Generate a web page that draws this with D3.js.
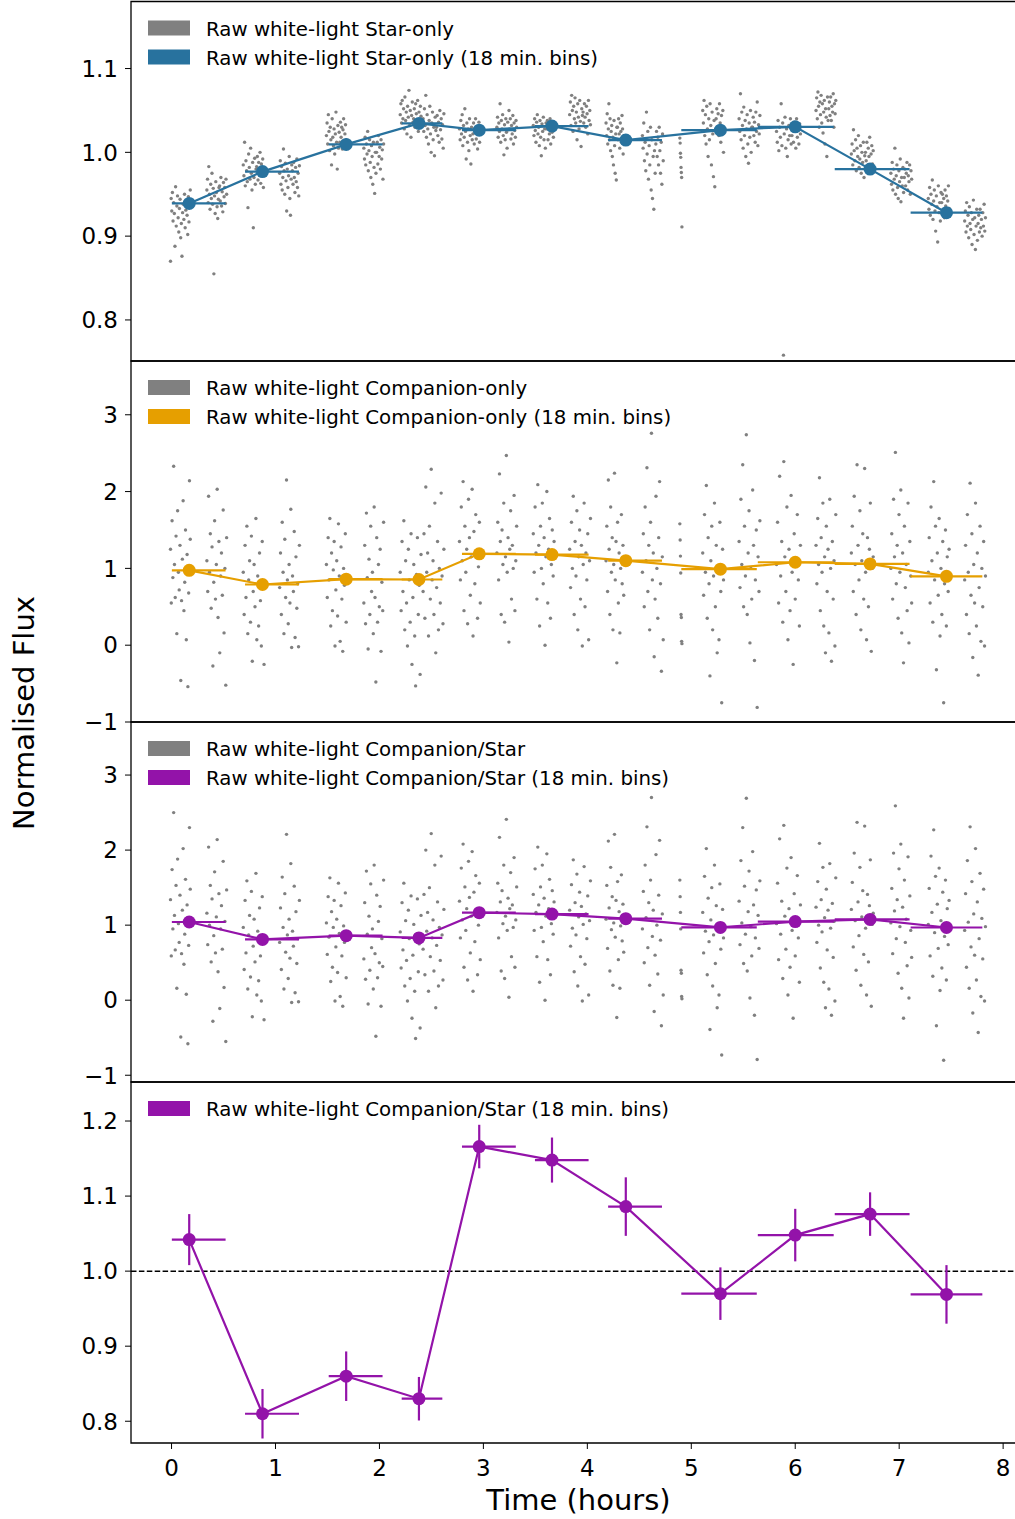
<!DOCTYPE html>
<html lang="en">
<head>
<meta charset="utf-8"/>
<script src="https://d3js.org/d3.v7.min.js"></script>
<style>
  body { margin: 0; background: #fff; }
  text { font-family: "DejaVu Sans", sans-serif; fill: #000; }
</style>
</head>
<body>
<div id="chart"></div>
<script>
// time windows (hours) of each block of exposures
var clumpStart = [-0.01, 0.34, 0.69, 1.04, 1.49, 1.85, 2.20, 2.42, 2.77, 3.13, 3.48, 3.83, 4.18, 4.53, 4.89, 5.11, 5.46, 5.82, 6.20, 6.54, 6.92, 7.28, 7.63];
var clumpEnd   = [0.18, 0.53, 0.89, 1.23, 1.68, 2.04, 2.40, 2.62, 2.97, 3.32, 3.68, 4.03, 4.35, 4.73, 4.91, 5.31, 5.66, 6.05, 6.39, 6.75, 7.12, 7.48, 7.83];

// raw white-light star-only flux, one list per block
var starRaw = [
  [0.870,0.945,0.930,0.952,0.918,0.940,0.927,0.888,0.959,0.912,0.936,0.948,0.922,0.905,0.933,0.944,0.898,0.915,0.876,0.928,0.938,0.920,0.950,0.910,0.931,0.942,0.925,0.902,0.947,0.917,0.935,0.955],
  [0.955,0.968,0.940,0.983,0.950,0.932,0.962,0.945,0.975,0.938,0.957,0.855,0.948,0.927,0.965,0.952,0.935,0.921,0.944,0.958,0.960,0.942,0.970,0.936,0.953,0.929,0.964,0.947,0.958,0.939,0.968,0.950],
  [0.985,0.972,1.012,0.960,0.990,0.978,0.965,0.934,0.998,0.982,0.968,1.005,0.975,0.955,0.988,0.910,0.970,0.993,0.962,0.980,0.983,0.995,0.967,0.988,0.976,1.000,0.963,0.986,0.972,0.992,0.958,0.979],
  [0.975,0.990,0.962,0.983,0.955,0.970,1.004,0.978,0.950,0.987,0.966,0.930,0.980,0.958,0.972,0.995,0.945,0.925,0.968,0.985,0.978,0.962,0.988,0.970,0.952,0.982,0.965,0.992,0.958,0.975,0.948,0.984],
  [1.020,1.035,1.010,1.045,1.025,1.002,1.030,1.015,0.985,1.040,1.018,1.008,1.028,0.998,1.022,1.048,1.012,0.980,1.032,1.005,1.024,1.012,1.036,1.018,1.030,1.004,1.027,1.040,1.010,1.022,1.033,1.015],
  [1.005,0.992,1.018,0.985,1.010,0.998,1.025,0.978,1.002,1.015,0.988,0.970,1.008,0.995,0.962,1.012,0.982,0.951,1.000,0.975,1.000,1.012,0.986,1.020,0.995,1.006,0.980,1.015,0.992,1.003,0.968,1.010],
  [1.045,1.058,1.035,1.062,1.040,1.052,1.028,1.066,1.038,1.048,1.022,1.055,1.042,1.074,1.032,1.050,1.018,1.044,1.060,1.036,1.040,1.052,1.030,1.058,1.046,1.035,1.062,1.025,1.048,1.038,1.055,1.043],
  [1.040,1.025,1.052,1.032,1.068,1.018,1.045,1.028,1.010,1.038,1.055,1.022,1.000,1.035,1.048,1.015,1.030,0.996,1.042,1.026,1.030,1.044,1.020,1.036,1.012,1.050,1.027,1.040,1.016,1.033,1.005,1.046],
  [1.028,1.015,1.038,1.022,1.045,1.008,1.032,1.018,1.052,1.025,0.992,1.035,1.012,1.028,1.002,1.040,1.020,0.986,1.030,1.015,1.022,1.035,1.010,1.028,1.040,1.016,1.030,1.004,1.024,1.036,1.012,1.026],
  [1.030,1.042,1.018,1.035,1.025,1.058,1.012,1.038,1.028,1.045,1.020,0.997,1.033,1.015,1.040,1.024,1.005,1.036,1.027,1.050,1.028,1.040,1.016,1.032,1.022,1.044,1.010,1.035,1.026,1.018,1.038,1.030],
  [1.032,1.020,1.040,1.026,1.012,1.036,1.045,1.022,1.030,1.008,1.038,1.018,0.996,1.034,1.025,1.042,1.015,1.028,1.005,1.035,1.028,1.038,1.015,1.032,1.022,1.040,1.010,1.030,1.024,1.036,1.018,1.027],
  [1.045,1.060,1.032,1.068,1.050,1.025,1.055,1.040,1.065,1.035,1.048,1.015,1.058,1.042,1.028,1.062,1.037,1.007,1.052,1.044,1.048,1.035,1.058,1.042,1.030,1.055,1.046,1.022,1.062,1.038,1.050,1.033],
  [1.035,1.020,1.046,1.010,1.028,1.058,1.015,1.040,1.002,1.025,1.032,0.995,1.018,0.985,1.038,1.008,0.975,1.022,0.967,1.030,1.030,1.015,1.040,1.022,1.005,1.035,1.025,1.012,1.044,1.028,0.998,1.020],
  [1.020,1.005,1.035,0.990,1.012,0.978,1.048,0.998,1.025,0.968,1.008,0.985,1.030,0.955,1.015,0.945,0.995,0.932,1.002,0.975,1.010,1.025,0.995,1.018,0.985,1.030,1.002,0.975,1.012,0.962,1.022,0.990],
  [1.017,1.011,0.999,0.994,0.982,0.976,0.970,0.911],
  [1.050,1.035,1.062,1.020,1.045,1.010,1.055,1.028,0.995,1.040,1.015,1.058,1.032,0.985,1.048,1.022,0.971,1.038,0.959,1.026,1.040,1.052,1.030,1.046,1.020,1.058,1.035,1.012,1.044,1.025,1.050,1.000],
  [1.040,1.025,1.070,1.015,1.048,1.032,1.005,1.054,1.020,1.038,0.995,1.028,1.045,1.010,0.987,1.035,1.018,1.050,1.000,1.030,1.030,1.042,1.020,1.036,1.012,1.048,1.025,1.060,1.008,1.033,1.022,1.044],
  [1.025,1.012,1.038,1.002,1.030,1.018,1.058,1.008,1.035,0.758,1.022,1.042,1.005,1.028,0.995,1.015,1.032,1.020,1.040,1.010,1.020,1.030,1.012,1.036,1.025,1.005,1.040,1.018,1.028,1.010,1.034,1.022],
  [1.050,1.065,1.040,1.072,1.055,1.030,1.060,1.045,1.068,1.035,1.058,1.023,1.048,1.062,1.010,1.052,1.042,0.995,1.066,1.038,1.052,1.060,1.044,1.066,1.038,1.055,1.048,1.070,1.030,1.058,1.046,1.062],
  [0.998,1.010,0.985,1.027,1.002,0.990,1.015,0.978,1.005,0.995,1.020,0.982,0.992,1.008,0.975,1.000,0.988,1.012,0.970,0.996,1.000,0.990,1.012,0.984,1.005,0.995,1.018,0.978,0.998,1.008,0.986,1.002],
  [0.975,0.962,0.988,0.955,0.980,0.968,1.005,0.950,0.972,0.985,0.958,0.945,0.978,0.965,0.992,0.941,0.970,0.960,0.982,0.952,0.970,0.980,0.960,0.975,0.988,0.955,0.972,0.965,0.985,0.950,0.978,0.968],
  [0.945,0.932,0.958,0.925,0.950,0.938,0.967,0.920,0.942,0.955,0.930,0.906,0.948,0.935,0.893,0.960,0.928,0.940,0.918,0.952,0.940,0.950,0.930,0.945,0.922,0.955,0.936,0.948,0.926,0.942,0.960,0.933],
  [0.918,0.930,0.905,0.940,0.912,0.925,0.898,0.935,0.915,0.908,0.928,0.890,0.920,0.943,0.902,0.922,0.884,0.912,0.932,0.895,0.915,0.925,0.905,0.932,0.910,0.920,0.900,0.928,0.912,0.938,0.906,0.922]
];

// raw white-light companion-only flux
var compRaw = [
  [1.25,0.55,1.62,0.88,2.33,1.05,0.62,1.42,0.15,1.75,0.95,0.72,1.30,-0.46,0.58,1.12,1.88,0.45,0.82,1.50,0.07,1.18,-0.54,0.68,2.14,1.38],
  [1.10,0.70,1.94,0.95,1.45,0.48,1.28,-0.27,0.82,1.62,0.60,1.05,2.03,0.36,1.35,-0.10,0.90,1.20,0.65,1.76,0.16,1.00,-0.52,1.40],
  [0.95,0.40,1.30,0.62,1.55,0.15,0.85,1.10,0.30,1.42,-0.21,0.70,1.05,0.50,1.65,0.07,0.90,0.25,1.20,0.58,-0.01,1.35,0.78,-0.25],
  [0.75,1.20,0.40,1.60,0.95,0.15,1.38,0.62,2.15,0.85,0.28,1.05,0.55,1.77,-0.03,0.90,0.70,1.48,0.10,1.15,0.48,0.80,-0.02,1.30],
  [1.05,0.62,1.40,0.85,1.65,0.25,1.20,0.45,0.98,1.35,-0.01,0.72,1.10,0.38,1.58,0.90,0.05,1.28,0.60,-0.08,1.00,0.78,1.45,0.30],
  [0.55,1.30,0.28,1.72,0.88,-0.05,1.12,0.40,1.55,0.70,0.95,0.15,1.80,0.62,-0.48,1.40,0.30,1.05,0.50,1.25,-0.08,0.82,0.45,1.60],
  [0.95,0.45,1.35,0.70,1.62,0.20,1.10,0.55,-0.01,1.25,0.85,0.30,1.45,-0.25,0.62,1.05,0.12,-0.53,0.92,1.40,0.40,0.78,-0.38,1.18],
  [0.70,1.45,0.35,2.06,0.95,1.20,0.12,1.55,0.60,2.29,0.85,1.10,0.40,1.85,-0.10,0.75,1.35,0.20,1.00,0.55,1.98,0.90,0.28,1.25],
  [1.35,0.85,1.80,1.10,2.13,0.45,1.55,0.95,1.25,0.28,1.90,1.40,0.65,1.15,2.03,0.12,1.48,0.80,1.70,1.20,0.35,1.02,1.60,0.55],
  [1.20,1.60,0.85,2.23,1.35,0.40,1.50,1.05,1.85,0.30,1.15,2.47,0.95,1.40,0.04,1.25,1.75,0.60,1.30,1.00,1.95,0.45,1.10,1.55],
  [1.45,0.95,1.80,1.20,0.60,2.09,1.30,0.25,1.55,1.00,1.85,0.80,1.40,0.00,1.15,2.00,0.55,1.25,1.65,0.35,1.05,1.50,0.90,1.35],
  [1.25,0.75,1.60,1.00,1.94,0.40,1.35,0.90,1.75,0.20,1.15,1.50,0.60,1.30,-0.01,1.05,1.85,0.50,1.20,0.85,1.45,0.07,1.10,1.65],
  [1.10,1.55,0.70,2.15,1.25,0.40,1.80,0.95,1.40,0.20,1.05,2.24,0.85,1.35,-0.23,1.60,0.55,1.20,0.16,1.00,1.70,0.80,1.30,0.65],
  [0.95,1.45,0.50,1.80,1.10,2.31,0.70,1.30,0.20,1.60,2.76,0.85,1.20,-0.15,0.60,1.94,1.00,0.35,1.40,2.13,0.80,-0.34,1.15,0.07],
  [1.58,1.37,1.16,0.94,0.40,0.36,0.05,0.02],
  [1.20,0.65,1.70,0.95,2.08,0.35,1.40,0.80,-0.40,1.10,1.55,0.20,0.90,1.85,0.50,1.30,-0.10,1.00,0.07,1.60,0.70,-0.75,1.25,0.85],
  [1.35,0.75,1.90,1.05,2.35,0.50,1.55,0.90,2.74,0.40,1.20,1.75,0.03,1.00,0.60,2.02,1.30,-0.20,0.85,1.50,-0.81,1.15,0.70,1.62],
  [1.05,1.60,0.55,2.20,0.90,1.35,0.30,2.39,1.15,0.70,1.80,0.07,1.25,0.45,1.95,0.95,-0.25,1.45,0.60,1.10,1.70,0.85,0.25,1.30],
  [1.30,0.80,1.65,1.05,2.18,0.45,1.40,0.95,1.85,0.25,1.15,-0.10,1.55,0.70,1.25,0.16,1.90,1.00,-0.21,1.35,0.60,1.10,-0.01,1.70],
  [1.20,1.55,0.70,1.94,1.05,0.40,2.35,1.30,0.85,1.75,0.20,1.10,1.45,0.60,2.30,0.95,0.07,1.40,0.50,1.25,1.85,-0.08,1.00,1.15],
  [1.00,1.45,0.60,1.90,1.15,2.51,0.80,1.30,0.35,1.70,0.95,2.02,0.16,1.20,-0.23,1.55,0.75,1.05,0.45,1.85,0.03,1.35,0.90,0.55],
  [0.95,1.40,0.55,1.80,1.10,0.30,2.13,0.85,1.55,-0.32,1.20,0.65,1.65,0.12,1.00,0.40,1.35,-0.75,0.80,1.50,0.25,1.15,0.70,1.25],
  [0.85,1.30,0.40,1.70,0.95,0.15,2.11,0.65,1.45,-0.16,1.05,0.55,1.85,0.25,1.20,-0.39,0.75,1.55,0.05,1.00,0.50,1.35,-0.01,0.90]
];

// raw white-light companion/star ratio
var ratioRaw = [
  [1.34,0.59,1.74,0.95,2.50,1.13,0.67,1.53,0.16,1.88,1.02,0.77,1.40,-0.49,0.62,1.20,2.02,0.48,0.88,1.61,0.08,1.27,-0.58,0.73,2.30,1.48],
  [1.16,0.74,2.04,1.00,1.53,0.51,1.35,-0.28,0.86,1.71,0.63,1.11,2.14,0.38,1.42,-0.11,0.95,1.26,0.68,1.85,0.17,1.05,-0.55,1.47],
  [0.97,0.41,1.33,0.63,1.59,0.15,0.87,1.13,0.31,1.45,-0.22,0.72,1.08,0.51,1.69,0.07,0.92,0.26,1.23,0.59,-0.01,1.38,0.80,-0.26],
  [0.77,1.23,0.41,1.64,0.97,0.15,1.42,0.64,2.21,0.87,0.29,1.08,0.56,1.82,-0.03,0.92,0.72,1.52,0.10,1.18,0.49,0.82,-0.02,1.33],
  [1.03,0.61,1.38,0.84,1.63,0.25,1.18,0.44,0.97,1.33,-0.01,0.71,1.08,0.37,1.56,0.89,0.05,1.26,0.59,-0.08,0.99,0.77,1.43,0.30],
  [0.55,1.30,0.28,1.72,0.88,-0.05,1.12,0.40,1.55,0.70,0.95,0.15,1.80,0.62,-0.48,1.40,0.30,1.05,0.50,1.25,-0.08,0.82,0.45,1.60],
  [0.91,0.43,1.30,0.67,1.56,0.19,1.06,0.53,-0.01,1.20,0.82,0.29,1.39,-0.24,0.60,1.01,0.12,-0.51,0.88,1.35,0.38,0.75,-0.37,1.13],
  [0.68,1.41,0.34,2.00,0.92,1.17,0.12,1.50,0.58,2.22,0.83,1.07,0.39,1.80,-0.10,0.73,1.31,0.19,0.97,0.53,1.92,0.87,0.27,1.21],
  [1.32,0.83,1.76,1.07,2.08,0.44,1.51,0.93,1.22,0.27,1.85,1.37,0.63,1.12,1.98,0.12,1.44,0.78,1.66,1.17,0.34,1.00,1.56,0.54],
  [1.17,1.56,0.83,2.17,1.31,0.39,1.46,1.02,1.80,0.29,1.12,2.41,0.93,1.36,0.04,1.22,1.70,0.58,1.27,0.97,1.90,0.44,1.07,1.51],
  [1.41,0.93,1.75,1.17,0.58,2.04,1.27,0.24,1.51,0.97,1.80,0.78,1.36,0.00,1.12,1.95,0.54,1.22,1.61,0.34,1.02,1.46,0.88,1.31],
  [1.20,0.72,1.54,0.96,1.87,0.38,1.30,0.87,1.68,0.19,1.11,1.44,0.58,1.25,-0.01,1.01,1.78,0.48,1.15,0.82,1.39,0.07,1.06,1.59],
  [1.08,1.53,0.69,2.12,1.23,0.39,1.77,0.94,1.38,0.20,1.03,2.21,0.84,1.33,-0.23,1.58,0.54,1.18,0.16,0.99,1.67,0.79,1.28,0.64],
  [0.95,1.45,0.50,1.80,1.10,2.31,0.70,1.30,0.20,1.60,2.70,0.85,1.20,-0.15,0.60,1.94,1.00,0.35,1.40,2.13,0.80,-0.34,1.15,0.07],
  [1.60,1.38,1.17,0.95,0.40,0.36,0.05,0.02],
  [1.17,0.63,1.65,0.92,2.02,0.34,1.36,0.78,-0.39,1.07,1.50,0.19,0.87,1.80,0.49,1.26,-0.10,0.97,0.07,1.55,0.68,-0.73,1.21,0.83],
  [1.32,0.74,1.86,1.03,2.30,0.49,1.52,0.88,2.69,0.39,1.18,1.72,0.03,0.98,0.59,1.98,1.27,-0.20,0.83,1.47,-0.79,1.13,0.69,1.59],
  [1.02,1.56,0.54,2.15,0.88,1.32,0.29,2.33,1.12,0.68,1.76,0.07,1.22,0.44,1.90,0.93,-0.24,1.42,0.59,1.07,1.66,0.83,0.24,1.27],
  [1.24,0.77,1.58,1.00,2.09,0.43,1.34,0.91,1.77,0.24,1.10,-0.10,1.48,0.67,1.20,0.15,1.82,0.96,-0.20,1.29,0.57,1.05,-0.01,1.63],
  [1.21,1.57,0.71,1.96,1.06,0.40,2.37,1.31,0.86,1.77,0.20,1.11,1.46,0.61,2.32,0.96,0.07,1.41,0.51,1.26,1.87,-0.08,1.01,1.16],
  [1.03,1.49,0.62,1.96,1.19,2.59,0.82,1.34,0.36,1.75,0.98,2.08,0.16,1.24,-0.24,1.60,0.77,1.08,0.46,1.91,0.03,1.39,0.93,0.57],
  [1.01,1.49,0.59,1.92,1.17,0.32,2.27,0.90,1.65,-0.34,1.28,0.69,1.76,0.13,1.06,0.43,1.44,-0.80,0.85,1.60,0.27,1.22,0.74,1.33],
  [0.93,1.42,0.44,1.86,1.04,0.16,2.31,0.71,1.58,-0.17,1.15,0.60,2.02,0.27,1.31,-0.43,0.82,1.69,0.05,1.09,0.55,1.48,-0.01,0.98]
];

// 18 minute bins
var binTime = [0.17, 0.875, 1.68, 2.38, 2.96, 3.66, 4.37, 5.28, 6.00, 6.72, 7.455];
var binLo   = [0.003, 0.707, 1.512, 2.214, 2.794, 3.496, 4.20, 4.904, 5.64, 6.38, 7.11];
var binHi   = [0.52, 1.226, 2.03, 2.605, 3.312, 4.012, 4.718, 5.63, 6.37, 7.10, 7.80];
var starBin  = [0.939, 0.977, 1.0095, 1.0345, 1.0265, 1.0313, 1.0146, 1.0265, 1.0305, 0.980, 0.928];
var compBin  = [0.975, 0.79, 0.86, 0.855, 1.19, 1.18, 1.10, 0.99, 1.08, 1.058, 0.897];
var ratioBin = [1.042, 0.81, 0.86, 0.83, 1.166, 1.148, 1.086, 0.970, 1.048, 1.076, 0.969];
var ratioErr = [0.034, 0.033, 0.033, 0.029, 0.029, 0.030, 0.039, 0.035, 0.035, 0.029, 0.039];

var xTicks = [0, 1, 2, 3, 4, 5, 6, 7, 8];

var blue = "#28729e", orange = "#e69f00", purple = "#9313a9", grey = "#808080";

var width = 1015, height = 1519;
var left = 131, right = 1026;

var svg = d3.select("#chart")
    .append("svg")
        .attr("width", width)
        .attr("height", height);

var x = d3.scaleLinear().domain([-0.39, 8.22]).range([left, right]);

var panels = [
    {top: 1.5, bottom: 361, domain: [0.751, 1.18], ticks: [0.8, 0.9, 1.0, 1.1], fmt: ".1f",
     raw: starRaw, bins: starBin, err: null, color: blue, name: "Star-only"},
    {top: 361, bottom: 722, domain: [-1.0, 3.70], ticks: [-1, 0, 1, 2, 3], fmt: "d",
     raw: compRaw, bins: compBin, err: null, color: orange, name: "Companion-only"},
    {top: 722, bottom: 1082, domain: [-1.09, 3.707], ticks: [-1, 0, 1, 2, 3], fmt: "d",
     raw: ratioRaw, bins: ratioBin, err: ratioErr, color: purple, name: "Companion/Star"},
    {top: 1082, bottom: 1443, domain: [0.771, 1.252], ticks: [0.8, 0.9, 1.0, 1.1, 1.2], fmt: ".1f",
     raw: null, bins: ratioBin, err: ratioErr, color: purple, name: "Companion/Star"}
];

panels.forEach(function (p, pi) {
    var y = d3.scaleLinear().domain(p.domain).range([p.bottom, p.top]);
    var g = svg.append("g");

    // raw points
    if (p.raw) {
        p.raw.forEach(function (vals, ci) {
            var t = d3.scalePoint()
                .domain(d3.range(vals.length))
                .range([clumpStart[ci], clumpEnd[ci]]);
            g.selectAll(null)
                .data(vals)
                .enter()
                .append("circle")
                    .attr("cx", function (d, i) { return x(t(i)); })
                    .attr("cy", function (d) { return y(d); })
                    .attr("r", 1.7)
                    .attr("fill", grey);
        });
    }

    // reference line on last panel
    if (pi === 3) {
        g.append("line")
            .attr("x1", left).attr("x2", right)
            .attr("y1", y(1.0)).attr("y2", y(1.0))
            .attr("stroke", "#000")
            .attr("stroke-width", 1.5)
            .attr("stroke-dasharray", "5.5,2.4");
    }

    var bins = binTime.map(function (t, i) {
        return {t: t, lo: binLo[i], hi: binHi[i], v: p.bins[i], e: p.err ? p.err[i] : 0};
    });

    // horizontal error bars
    g.selectAll(null)
        .data(bins)
        .enter()
        .append("line")
            .attr("x1", function (d) { return x(d.lo); })
            .attr("x2", function (d) { return x(d.hi); })
            .attr("y1", function (d) { return y(d.v); })
            .attr("y2", function (d) { return y(d.v); })
            .attr("stroke", p.color)
            .attr("stroke-width", 2.2);

    // vertical error bars
    if (p.err) {
        g.selectAll(null)
            .data(bins)
            .enter()
            .append("line")
                .attr("x1", function (d) { return x(d.t); })
                .attr("x2", function (d) { return x(d.t); })
                .attr("y1", function (d) { return y(d.v - d.e); })
                .attr("y2", function (d) { return y(d.v + d.e); })
                .attr("stroke", p.color)
                .attr("stroke-width", 2.2);
    }

    g.append("path")
        .datum(bins)
        .attr("fill", "none")
        .attr("stroke", p.color)
        .attr("stroke-width", 2.2)
        .attr("d", d3.line()
            .x(function (d) { return x(d.t); })
            .y(function (d) { return y(d.v); }));

    g.selectAll(null)
        .data(bins)
        .enter()
        .append("circle")
            .attr("cx", function (d) { return x(d.t); })
            .attr("cy", function (d) { return y(d.v); })
            .attr("r", 6.5)
            .attr("fill", p.color);

    // y axis ticks
    var fmt = d3.format(p.fmt);
    var ty = g.selectAll(null).data(p.ticks).enter().append("g")
        .attr("transform", function (d) { return "translate(0," + y(d) + ")"; });
    ty.append("line")
        .attr("x1", left - 6).attr("x2", left)
        .attr("stroke", "#000").attr("stroke-width", 1);
    ty.append("text")
        .attr("x", left - 13)
        .attr("dy", "0.36em")
        .attr("text-anchor", "end")
        .style("font-size", "23px")
        .text(function (d) { return fmt(d); });

    // spines
    g.append("path")
        .attr("d", "M" + right + "," + p.top + "H" + left + "V" + p.bottom + "H" + right)
        .attr("fill", "none")
        .attr("stroke", "#000")
        .attr("stroke-width", 1.3);

    // legend
    var entries = [];
    if (p.raw) entries.push({c: grey, label: "Raw white-light " + p.name});
    entries.push({c: p.color, label: "Raw white-light " + p.name + " (18 min. bins)"});
    var lg = g.selectAll(null).data(entries).enter().append("g")
        .attr("transform", function (d, i) { return "translate(148," + (p.top + 19 + i * 29) + ")"; });
    lg.append("rect")
        .attr("width", 42).attr("height", 15)
        .attr("fill", function (d) { return d.c; });
    lg.append("text")
        .attr("x", 58).attr("y", 15)
        .style("font-size", "19.8px")
        .text(function (d) { return d.label; });

    // bottom axis
    if (pi === 3) {
        var tx = g.selectAll(null).data(xTicks).enter().append("g")
            .attr("transform", function (d) { return "translate(" + x(d) + "," + p.bottom + ")"; });
        tx.append("line")
            .attr("y1", 0).attr("y2", 6)
            .attr("stroke", "#000").attr("stroke-width", 1);
        tx.append("text")
            .attr("y", 33)
            .attr("text-anchor", "middle")
            .style("font-size", "23px")
            .text(function (d) { return d; });
    }
});

svg.append("text")
    .attr("x", (left + right) / 2)
    .attr("y", 1510)
    .attr("text-anchor", "middle")
    .style("font-size", "29px")
    .text("Time (hours)");

svg.append("text")
    .attr("transform", "translate(34,713) rotate(-90)")
    .attr("text-anchor", "middle")
    .style("font-size", "29px")
    .text("Normalised Flux");
</script>
</body>
</html>
